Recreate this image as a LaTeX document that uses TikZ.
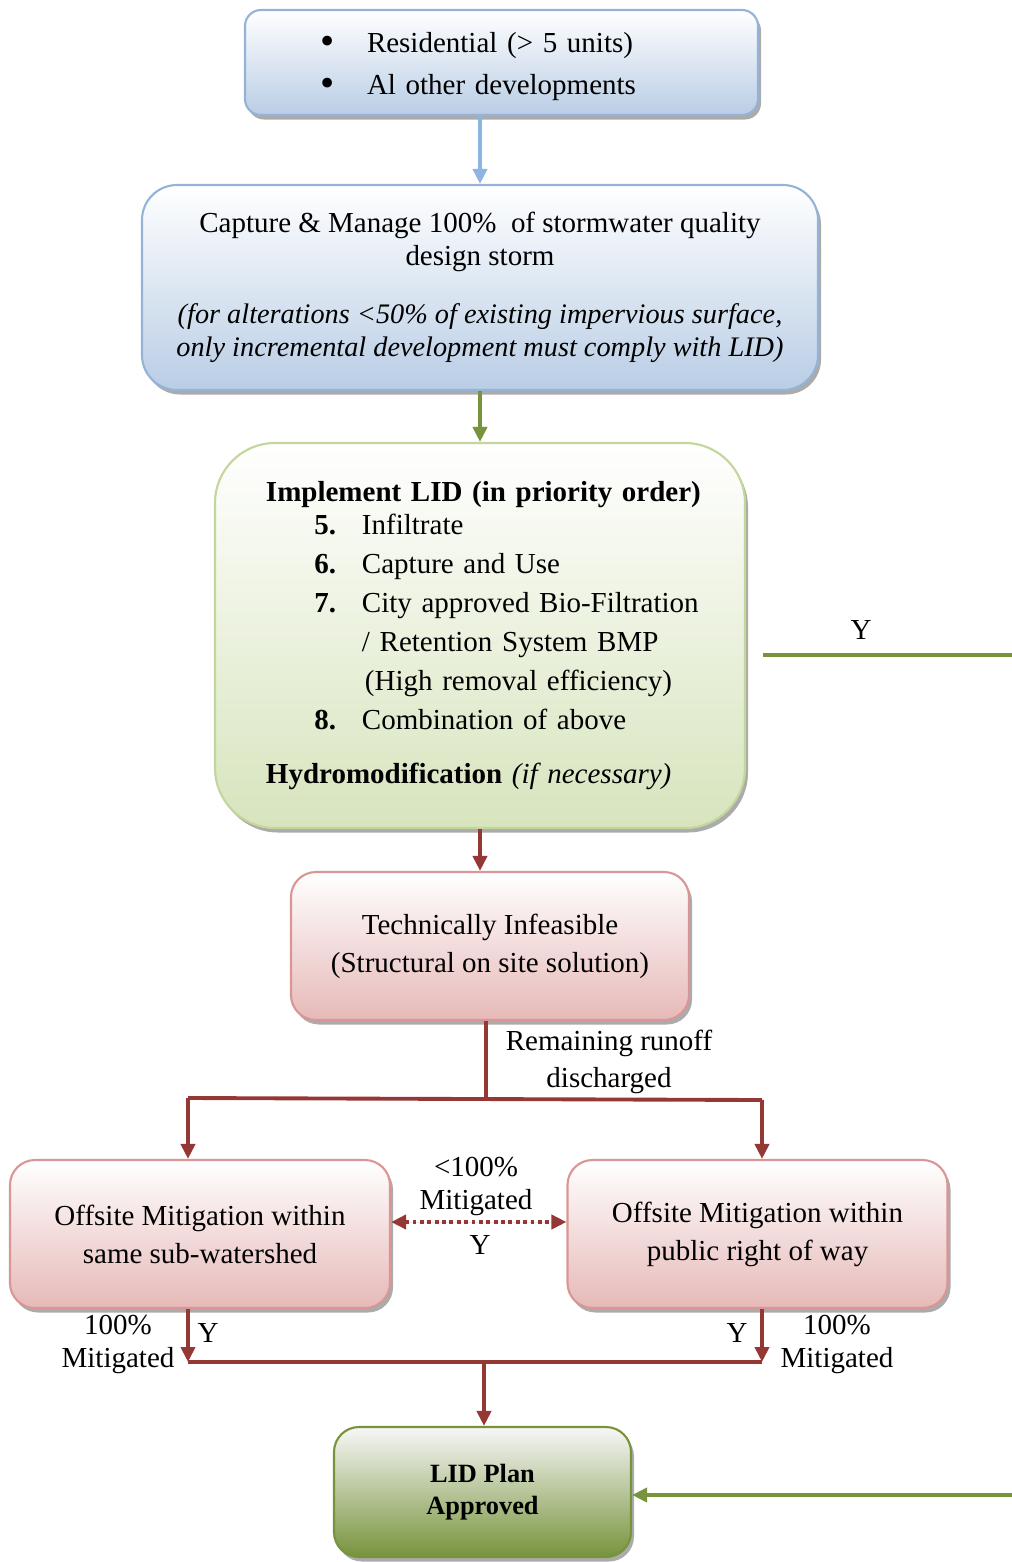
\documentclass[tikz,border=0pt]{standalone}
\usepackage{fontspec}
\usepackage{graphicx}
\setmainfont{Liberation Serif}
\usetikzlibrary{shadows}
\usetikzlibrary{arrows.meta}
\usetikzlibrary{calc}

\definecolor{boxblue}{HTML}{B9CDE5}
\definecolor{lineblue}{HTML}{95B3D7}
\definecolor{arrowblue}{HTML}{8DB4E2}
\definecolor{boxgreen}{HTML}{D7E4BD}
\definecolor{linegreen}{HTML}{C3D69B}
\definecolor{olive}{HTML}{77933C}
\definecolor{boxred}{HTML}{E6B9B8}
\definecolor{linered}{HTML}{D99694}
\definecolor{darkred}{HTML}{953735}

\tikzstyle{box}=[draw, line width=1.2pt, align=center, drop shadow={shadow xshift=0.6mm,shadow yshift=-0.9mm,fill=black!55,opacity=0.6}]
\tikzstyle{bluebox}=[box, draw=lineblue, top color=white, bottom color=boxblue]
\tikzstyle{greenbox}=[box, draw=linegreen, top color=white, bottom color=boxgreen]
\tikzstyle{redbox}=[box, draw=linered, top color=white, bottom color=boxred, rounded corners=5mm, minimum width=76mm, minimum height=29.6mm]
\tikzstyle{okbox}=[box, draw=olive, top color=white!97!black, bottom color=olive, rounded corners=5mm]
\tikzstyle{tip}=[line width=2.2pt, -{Triangle[length=3mm,width=2.8mm]}]
\tikzstyle{redline}=[line width=2.2pt, draw=darkred]
\tikzstyle{redarrow}=[tip, draw=darkred, fill=darkred]
\tikzstyle{greenarrow}=[tip, draw=olive, fill=olive]
\tikzstyle{label}=[align=center, inner sep=0pt]

\newcommand{\lidstep}[2]{\hspace*{14.8mm}\makebox[4.4mm][r]{\textbf{#1}}\hspace*{5.2mm}#2}
\newcommand{\bigdot}{\makebox[9.4mm][l]{\raisebox{-0.1ex}{\scalebox{1.4}{\textbullet}}}}
\newcommand{\note}[1]{{\fontsize{16.1}{18.8}\selectfont\itshape #1}}

\begin{document}
\begin{tikzpicture}[x=0.2mm, y=-0.2mm, every node/.append style={font=\fontsize{16.5}{18.8}\selectfont}]
\useasboundingbox (0,0) rectangle (1012,1562);

% boxes
\node[bluebox, rounded corners=3.2mm, text width=102.6mm, inner xsep=0pt, minimum height=21mm, align=left] (start) at (501.5,62.5)
  {\rule{0pt}{5.8mm}\hspace*{15mm}\bigdot Residential (> 5 units)\\[1.8mm]
   \hspace*{15mm}\bigdot Al other developments};

\node[bluebox, rounded corners=7mm, minimum width=135.2mm, minimum height=41mm] (capture) at (480,287.5)
  {Capture \& Manage 100\%\ \ of stormwater quality\\design storm\\[5mm]
   \note{(for alterations <50\% of existing impervious surface,}\\
   \note{only incremental development must comply with LID)}};

\node[greenbox, rounded corners=12mm, text width=96mm, inner xsep=5mm, minimum height=77mm, align=left] (lid) at (480,635.5)
  {\hspace*{5.2mm}\textbf{Implement LID (in priority order)}\\
   \lidstep{5.}{Infiltrate}\\[1.2mm]
   \lidstep{6.}{Capture and Use}\\[1.2mm]
   \lidstep{7.}{City approved Bio-Filtration}\\[1.2mm]
   \hspace*{24.4mm}/ Retention System BMP\\[1.2mm]
   \hspace*{25mm}(High removal efficiency)\\[1.2mm]
   \lidstep{8.}{Combination of above}\\[4.2mm]
   \hspace*{5.2mm}\textbf{Hydromodification} \textit{(if necessary)}};

\node[redbox, minimum width=79.6mm] (tech) at (490,946)
  {Technically Infeasible\\[1mm](Structural on site solution)};

\node[redbox] (offL) at (200,1234) {Offsite Mitigation within\\[1mm]same sub-watershed};
\node[redbox] (offR) at (757.5,1234) {Offsite Mitigation within\\[1mm]public right of way};

\node[okbox, minimum width=59.4mm, minimum height=26mm, font=\fontsize{15}{18}\selectfont\bfseries] (final) at (482.5,1492)
  {LID Plan\\Approved};

% junction points
\coordinate (split) at (486,1099);
\coordinate (splitL) at (188,1098);
\coordinate (splitR) at (762,1100);
\coordinate (joinL) at (188,1362);
\coordinate (joinR) at (762,1362);
\coordinate (join) at (484,1362);
\coordinate (yA) at (763,655);
\coordinate (yB) at (1012,655);
\coordinate (yC) at (1012,1495);

% connectors
\draw[tip, draw=arrowblue, fill=arrowblue] (start.south -| capture.north) -- (capture.north);
\draw[greenarrow] (capture.south) -- (lid.north);
\draw[redarrow] (lid.south) -- (tech.north -| lid.south);
\draw[redline] (tech.south -| split) -- (split);
\draw[redline] (splitL) -- (splitR);
\draw[redarrow] (splitL) -- (offL.north -| splitL);
\draw[redarrow] (splitR) -- (offR.north -| splitR);
\draw[redarrow, dotted, {Triangle[length=3mm,width=2.8mm]}-{Triangle[length=3mm,width=2.8mm]}]
  ([yshift=2.4mm]offL.east) -- ([yshift=2.4mm]offR.west);
\draw[redarrow] (offL.south -| joinL) -- (joinL);
\draw[redarrow] (offR.south -| joinR) -- (joinR);
\draw[redline] (joinL) -- (joinR);
\draw[redarrow] (join) -- (final.north -| join);
\draw[line width=2.2pt, draw=olive] (yA) -- (yB);
\draw[greenarrow] (yC) -- (final.east |- yC);

% labels
\node[label] (runoff) at (609,1062) {Remaining runoff\\[0.8mm]discharged};
\node[label] (partial) at (476,1186) {<100\%\\Mitigated};
\node[label] (partialY) at (480,1245) {Y};
\node[label] (fullL) at (118,1344) {100\%\\Mitigated};
\node[label] (fullLY) at (208,1333) {Y};
\node[label] (fullR) at (837,1344) {100\%\\Mitigated};
\node[label] (fullRY) at (737,1333) {Y};
\node[label] (lidY) at (861,630) {Y};

\end{tikzpicture}
\end{document}
